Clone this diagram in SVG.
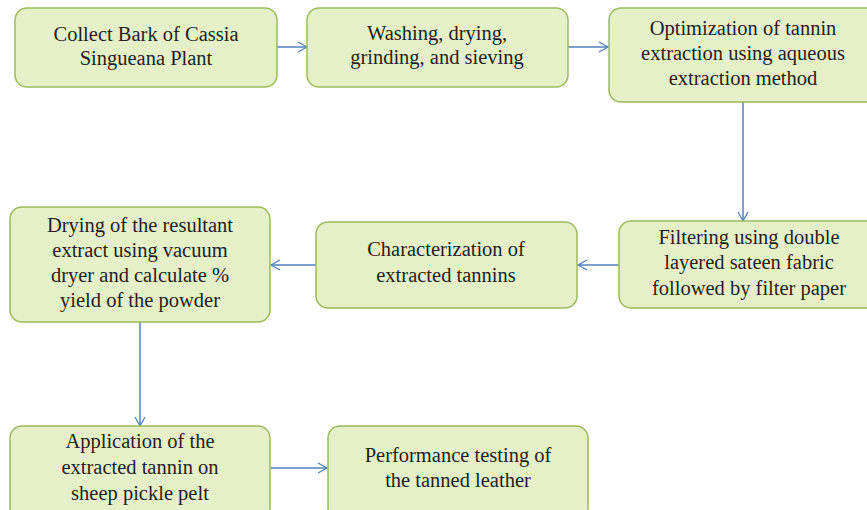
<svg xmlns="http://www.w3.org/2000/svg" width="867" height="510" viewBox="0 0 867 510">
<style>
.box{fill:#e5efc8;stroke:#9bbb59;stroke-width:1.5}
.t{font-family:"Liberation Serif","Times New Roman",serif;font-size:20.5px;fill:#231f20;text-anchor:middle}
.c{stroke:#4f81bd;stroke-width:1.5;fill:none}
</style>
<defs>
<marker id="ah" markerWidth="12" markerHeight="12" refX="10" refY="6" orient="auto" markerUnits="userSpaceOnUse">
<path d="M1,1 L10,6 L1,11" fill="none" stroke="#4f81bd" stroke-width="1.3"/>
</marker>
</defs>
<rect width="867" height="510" fill="#ffffff"/>
<g id="connectors">
<line class="c" x1="277" y1="47" x2="307" y2="47" marker-end="url(#ah)"/>
<line class="c" x1="568" y1="47" x2="608" y2="47" marker-end="url(#ah)"/>
<line class="c" x1="743" y1="102" x2="743" y2="221" marker-end="url(#ah)"/>
<line class="c" x1="619" y1="265" x2="578" y2="265" marker-end="url(#ah)"/>
<line class="c" x1="316" y1="265" x2="271" y2="265" marker-end="url(#ah)"/>
<line class="c" x1="140" y1="322" x2="140" y2="426" marker-end="url(#ah)"/>
<line class="c" x1="270" y1="468" x2="327" y2="468" marker-end="url(#ah)"/>
</g>
<g id="n1">
<rect class="box" x="15" y="8" width="262" height="79" rx="12"/>
<text class="t" x="146" y="41">Collect Bark of Cassia</text>
<text class="t" x="146" y="65">Singueana Plant</text>
</g>
<g id="n2">
<rect class="box" x="307" y="8" width="261" height="79" rx="12"/>
<text class="t" x="437" y="40">Washing, drying,</text>
<text class="t" x="437" y="64">grinding, and sieving</text>
</g>
<g id="n3">
<rect class="box" x="609" y="8" width="270" height="94" rx="12"/>
<text class="t" x="743" y="35">Optimization of tannin</text>
<text class="t" x="743" y="60">extraction using aqueous</text>
<text class="t" x="743" y="85">extraction method</text>
</g>
<g id="n4">
<rect class="box" x="619" y="221" width="262" height="87" rx="12"/>
<text class="t" x="749" y="244">Filtering using double</text>
<text class="t" x="749" y="269">layered sateen fabric</text>
<text class="t" x="749" y="295">followed by filter paper</text>
</g>
<g id="n5">
<rect class="box" x="316" y="222" width="261" height="86" rx="12"/>
<text class="t" x="446" y="256">Characterization of</text>
<text class="t" x="446" y="282">extracted tannins</text>
</g>
<g id="n6">
<rect class="box" x="10" y="207" width="260" height="115" rx="12"/>
<text class="t" x="140" y="232">Drying of the resultant</text>
<text class="t" x="140" y="257">extract using vacuum</text>
<text class="t" x="140" y="282">dryer and calculate %</text>
<text class="t" x="140" y="307">yield of the powder</text>
</g>
<g id="n7">
<rect class="box" x="10" y="426" width="260" height="94" rx="12"/>
<text class="t" x="140" y="448">Application of the</text>
<text class="t" x="140" y="474">extracted tannin on</text>
<text class="t" x="140" y="500">sheep pickle pelt</text>
</g>
<g id="n8">
<rect class="box" x="328" y="426" width="260" height="94" rx="12"/>
<text class="t" x="458" y="462">Performance testing of</text>
<text class="t" x="458" y="487">the tanned leather</text>
</g>
</svg>
